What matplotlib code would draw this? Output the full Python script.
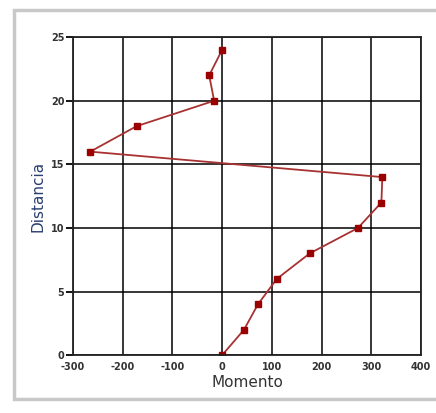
import matplotlib.pyplot as plt
from matplotlib.patches import Rectangle

plt.rcParams['axes.unicode_minus'] = False

distancia = [0, 2, 4, 6, 8, 10, 12, 14, 16, 18, 20, 22, 24]
momento = [0, 44, 72, 110, 176, 273, 320, 322, -265, -172, -16, -26, 0]

fig = plt.figure(figsize=(4.36, 4.13), dpi=100)
fig.patch.set_facecolor('white')

# panel with shadow edge, behind the axes
fig.patches.append(Rectangle((0.033, 0.035), 0.98, 0.94, transform=fig.transFigure,
                             facecolor='white', edgecolor='#c8c8c8', lw=2.5, zorder=-5))

ax = fig.add_axes([0.167, 0.14, 0.799, 0.77])
ax.set_facecolor('none')
ax.plot(momento, distancia, color='#a83232', lw=1.3, marker='s', ms=4.5,
        mfc='#9a0000', mec='#9a0000')

ax.set_xlim(-300, 400)
ax.set_ylim(0, 25)
ax.set_xticks(range(-300, 401, 100))
ax.set_yticks(range(0, 26, 5))
ax.grid(True, color='black', lw=1.1)
for s in ax.spines.values():
    s.set_color('#222222')
    s.set_linewidth(1.3)
ax.tick_params(axis='y', direction='out', length=5, width=1.3, labelsize=7,
               labelcolor='#333333', pad=1)
ax.tick_params(axis='x', direction='out', length=0, labelsize=7,
               labelcolor='#333333', pad=5)
for lab in ax.get_xticklabels() + ax.get_yticklabels():
    lab.set_fontweight('bold')

ax.set_xlabel('Momento', fontsize=11, color='#333333', labelpad=2)
ax.set_ylabel('Distancia', fontsize=11, color='#2a4070', labelpad=4)

fig.savefig('out.png', dpi=100)
